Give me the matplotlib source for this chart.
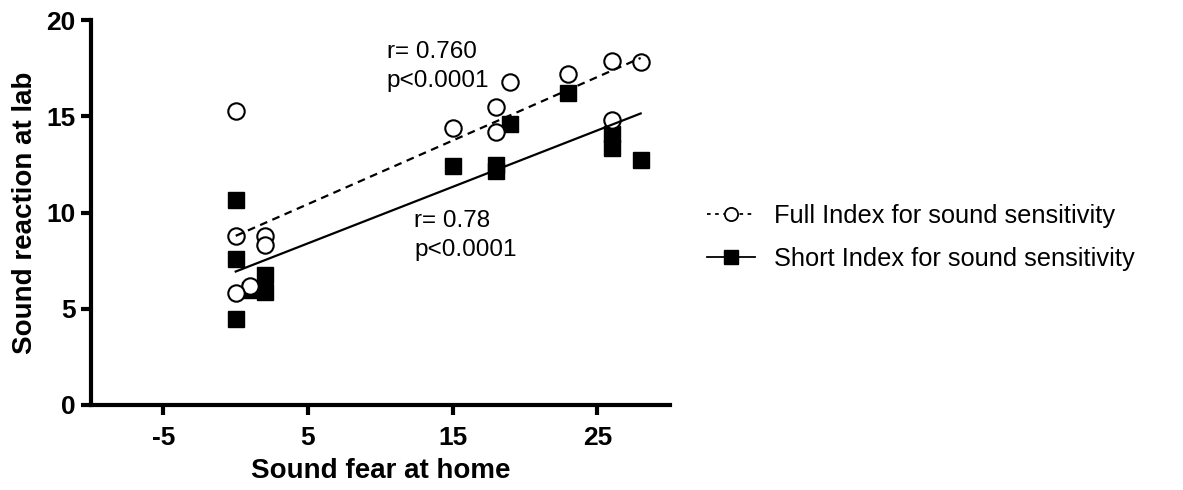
import numpy as np
import matplotlib
matplotlib.use("Agg")
import matplotlib.pyplot as plt
from matplotlib.lines import Line2D

# ---- data ----
full_x = [0, 0, 2, 2, 1, 0, 15, 18, 18, 19, 23, 26, 28, 26]
full_y = [15.3, 8.8, 8.8, 8.3, 6.2, 5.8, 14.4, 15.5, 14.2, 16.8, 17.2, 17.9, 17.8, 14.8]

short_x = [0, 0, 0, 1, 2, 2, 15, 18, 18, 19, 23, 26, 26, 28]
short_y = [10.65, 7.6, 4.45, 6.0, 6.75, 5.85, 12.4, 12.45, 12.15, 14.6, 16.2, 14.1, 13.35, 12.75]

x_ticks = [-5, 5, 15, 25]
y_ticks = [0, 5, 10, 15, 20]

full_label = "Full Index for sound sensitivity"
short_label = "Short Index for sound sensitivity"
full_stats = "r= 0.760\np<0.0001"
short_stats = "r= 0.78\np<0.0001"
x_title = "Sound fear at home"
y_title = "Sound reaction at lab"

plt.rcParams['font.family'] = ['Liberation Sans', 'DejaVu Sans']
plt.rcParams['axes.unicode_minus'] = False

fig = plt.figure(figsize=(11.83, 4.90), dpi=100)
ax = fig.add_axes([0.077, 0.1735, 0.489, 0.7855])

ax.plot(short_x, short_y, linestyle='none', marker='s', markersize=11,
        markerfacecolor='black', markeredgecolor='black', zorder=3)
ax.plot(full_x, full_y, linestyle='none', marker='o', markersize=11.8,
        markerfacecolor='white', markeredgecolor='black', markeredgewidth=1.5, zorder=4)

# regression lines
for xs, ys, ls in [(full_x, full_y, (0, (3.5, 2.5))), (short_x, short_y, '-')]:
    xs = np.asarray(xs, float); ys = np.asarray(ys, float)
    m, b = np.polyfit(xs, ys, 1)
    xx = np.array([xs.min(), xs.max()])
    ax.plot(xx, m * xx + b, color='black', linewidth=1.6, linestyle=ls, zorder=5)

ax.text(10.45, 17.6, full_stats, fontsize=17.5, va='center', ha='left', linespacing=1.4)
ax.text(12.35, 8.8, short_stats, fontsize=17.5, va='center', ha='left', linespacing=1.4)

ax.set_xlim(-10, 30)
ax.set_ylim(0, 20)
ax.set_xticks(x_ticks)
ax.set_yticks(y_ticks)
for lab in ax.get_xticklabels() + ax.get_yticklabels():
    lab.set_fontweight('bold')
ax.tick_params(axis='both', labelsize=19, width=3.0, length=7, direction='out')
ax.tick_params(axis='x', pad=8)
ax.tick_params(axis='y', pad=4)
for s in ['top', 'right']:
    ax.spines[s].set_visible(False)
for s in ['left', 'bottom']:
    ax.spines[s].set_linewidth(3.0)

ax.set_xlabel(x_title, fontsize=20, fontweight='bold', labelpad=6)
ax.set_ylabel(y_title, fontsize=20, fontweight='bold', labelpad=6)

handles = [
    Line2D([0], [0], color='black', linestyle=(0, (2, 2.5)), linewidth=1.3, marker='o',
           markersize=9.5, markerfacecolor='white', markeredgecolor='black', markeredgewidth=1.3),
    Line2D([0], [0], color='black', linestyle='-', linewidth=1.3, marker='s',
           markersize=9.5, markerfacecolor='black', markeredgecolor='black'),
]
fig.legend(handles, [full_label, short_label], loc='center left',
           bbox_to_anchor=(0.578, 0.515), frameon=False, fontsize=18.3,
           handlelength=1.9, handletextpad=0.75, labelspacing=0.75)

fig.savefig('out.png', dpi=100)
